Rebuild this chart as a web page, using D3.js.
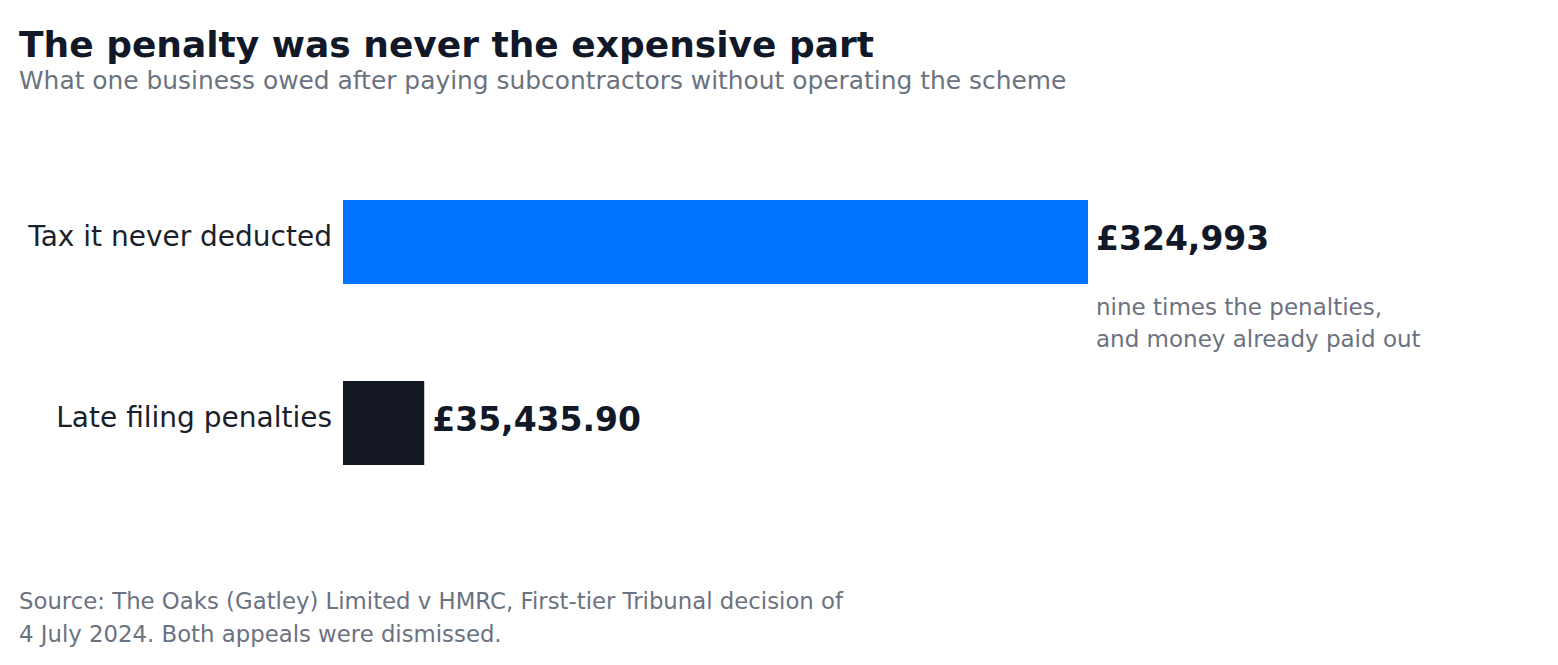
<!DOCTYPE html>
<html>
<head>
<meta charset="utf-8">
<script src="https://cdn.jsdelivr.net/npm/d3@7"></script>
<style>
  html, body { margin: 0; padding: 0; background: #fff; }
  text { font-family: "DejaVu Sans", sans-serif; }
</style>
</head>
<body>
<div id="chart"></div>
<script>
var width = 1558, height = 665;

// data
var categories = ["Tax it never deducted", "Late filing penalties"];
var amounts = [324993, 35435.90];
var valueLabels = ["£324,993", "£35,435.90"];
var barColors = ["#0074ff", "#121722"];

var titleText = "The penalty was never the expensive part";
var subtitleText = "What one business owed after paying subcontractors without operating the scheme";
var noteLines = ["nine times the penalties,", "and money already paid out"];
var sourceLines = ["Source: The Oaks (Gatley) Limited v HMRC, First-tier Tribunal decision of",
                   "4 July 2024. Both appeals were dismissed."];

var svg = d3.select("#chart").append("svg")
    .attr("width", width)
    .attr("height", height);

var x = d3.scaleLinear()
    .domain([0, d3.max(amounts)])
    .range([343, 1088]);

var y = d3.scaleBand()
    .domain(categories)
    .range([109.5, 555.5])
    .paddingInner(0.536)
    .paddingOuter(0.5);

svg.append("text")
    .attr("x", 19).attr("y", 57)
    .attr("font-size", 36).attr("font-weight", "bold")
    .attr("fill", "#111827")
    .text(titleText);

svg.append("text")
    .attr("x", 19).attr("y", 89)
    .attr("font-size", 24.9)
    .attr("fill", "#6b7280")
    .text(subtitleText);

var rows = svg.selectAll("g.row")
    .data(categories)
    .enter().append("g")
    .attr("class", "row");

rows.append("rect")
    .attr("x", x(0))
    .attr("y", function(d) { return y(d); })
    .attr("width", function(d, i) { return x(amounts[i]) - x(0); })
    .attr("height", y.bandwidth())
    .attr("fill", function(d, i) { return barColors[i]; });

rows.append("text")
    .attr("x", x(0) - 11)
    .attr("y", function(d) { return y(d) + y.bandwidth() / 2 + 4; })
    .attr("text-anchor", "end")
    .attr("font-size", 28)
    .attr("fill", "#1a1f2b")
    .text(function(d) { return d; });

rows.append("text")
    .attr("x", function(d, i) { return x(amounts[i]) + 8; })
    .attr("y", function(d) { return y(d) + y.bandwidth() / 2 + 8; })
    .attr("font-size", 33).attr("font-weight", "bold")
    .attr("fill", "#111827")
    .text(function(d, i) { return valueLabels[i]; });

// annotation under the big bar
var note = svg.append("text")
    .attr("font-size", 23)
    .attr("fill", "#6b7280");
note.selectAll("tspan")
    .data(noteLines)
    .enter().append("tspan")
    .attr("x", x(amounts[0]) + 8)
    .attr("y", function(d, i) { return 315 + i * 32; })
    .text(function(d) { return d; });

var src = svg.append("text")
    .attr("font-size", 22.8)
    .attr("fill", "#6b7280");
src.selectAll("tspan")
    .data(sourceLines)
    .enter().append("tspan")
    .attr("x", 19)
    .attr("y", function(d, i) { return 609 + i * 33; })
    .text(function(d) { return d; });
</script>
</body>
</html>
